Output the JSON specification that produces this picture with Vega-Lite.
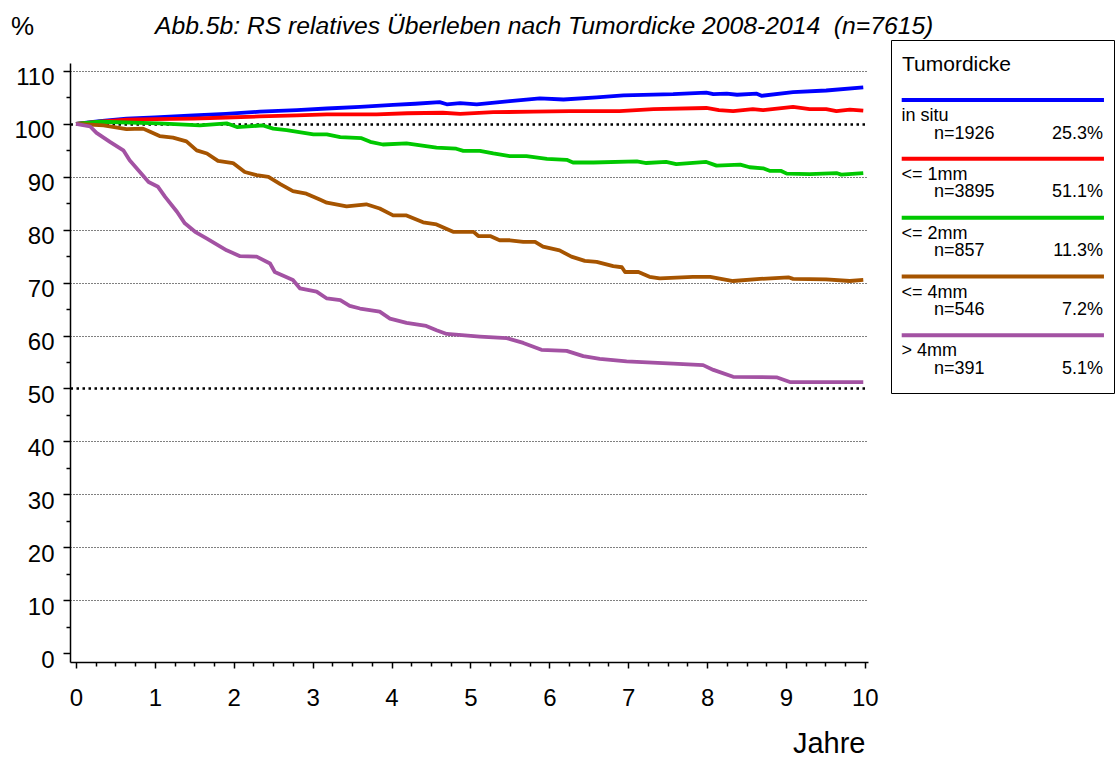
{
  "$schema": "https://vega.github.io/schema/vega-lite/v6.json",
  "padding": {"left": 10, "top": 13, "right": 0, "bottom": 0},
  "bounds": "flush",
  "spacing": 23,
  "config": {
    "font": "Liberation Sans",
    "view": {"stroke": null},
    "axis": {"labelFont": "Liberation Sans", "titleFont": "Liberation Sans", "labelColor": "black", "titleColor": "black"}
  },
  "datasets": {
    "curves": [
      {"cat": "in situ", "t": 0, "v": 100}, {"cat": "in situ", "t": 0.3, "v": 100.5}, {"cat": "in situ", "t": 0.64, "v": 101.0}, {"cat": "in situ", "t": 1.0, "v": 101.2}, {"cat": "in situ", "t": 1.49, "v": 101.6}, {"cat": "in situ", "t": 1.9, "v": 101.9}, {"cat": "in situ", "t": 2.33, "v": 102.3}, {"cat": "in situ", "t": 2.8, "v": 102.6}, {"cat": "in situ", "t": 3.18, "v": 102.9}, {"cat": "in situ", "t": 3.6, "v": 103.2}, {"cat": "in situ", "t": 4.02, "v": 103.6}, {"cat": "in situ", "t": 4.3, "v": 103.8}, {"cat": "in situ", "t": 4.61, "v": 104.1}, {"cat": "in situ", "t": 4.7, "v": 103.7}, {"cat": "in situ", "t": 4.87, "v": 103.9}, {"cat": "in situ", "t": 5.08, "v": 103.7}, {"cat": "in situ", "t": 5.5, "v": 104.3}, {"cat": "in situ", "t": 5.88, "v": 104.8}, {"cat": "in situ", "t": 6.18, "v": 104.6}, {"cat": "in situ", "t": 6.6, "v": 105.0}, {"cat": "in situ", "t": 6.94, "v": 105.4}, {"cat": "in situ", "t": 7.57, "v": 105.6}, {"cat": "in situ", "t": 7.99, "v": 105.9}, {"cat": "in situ", "t": 8.08, "v": 105.6}, {"cat": "in situ", "t": 8.25, "v": 105.7}, {"cat": "in situ", "t": 8.38, "v": 105.5}, {"cat": "in situ", "t": 8.63, "v": 105.7}, {"cat": "in situ", "t": 8.69, "v": 105.3}, {"cat": "in situ", "t": 9.09, "v": 106.0}, {"cat": "in situ", "t": 9.51, "v": 106.3}, {"cat": "in situ", "t": 9.98, "v": 106.9},
      {"cat": "<= 1mm", "t": 0, "v": 100}, {"cat": "<= 1mm", "t": 0.3, "v": 100.4}, {"cat": "<= 1mm", "t": 0.64, "v": 100.8}, {"cat": "<= 1mm", "t": 1.0, "v": 100.9}, {"cat": "<= 1mm", "t": 1.49, "v": 101.0}, {"cat": "<= 1mm", "t": 1.9, "v": 101.2}, {"cat": "<= 1mm", "t": 2.33, "v": 101.4}, {"cat": "<= 1mm", "t": 2.8, "v": 101.6}, {"cat": "<= 1mm", "t": 3.18, "v": 101.8}, {"cat": "<= 1mm", "t": 3.81, "v": 101.8}, {"cat": "<= 1mm", "t": 4.2, "v": 102.0}, {"cat": "<= 1mm", "t": 4.65, "v": 102.1}, {"cat": "<= 1mm", "t": 4.87, "v": 101.9}, {"cat": "<= 1mm", "t": 5.29, "v": 102.2}, {"cat": "<= 1mm", "t": 5.8, "v": 102.3}, {"cat": "<= 1mm", "t": 6.26, "v": 102.4}, {"cat": "<= 1mm", "t": 6.89, "v": 102.4}, {"cat": "<= 1mm", "t": 7.32, "v": 102.8}, {"cat": "<= 1mm", "t": 7.99, "v": 103.0}, {"cat": "<= 1mm", "t": 8.15, "v": 102.6}, {"cat": "<= 1mm", "t": 8.33, "v": 102.4}, {"cat": "<= 1mm", "t": 8.58, "v": 102.8}, {"cat": "<= 1mm", "t": 8.71, "v": 102.6}, {"cat": "<= 1mm", "t": 9.09, "v": 103.2}, {"cat": "<= 1mm", "t": 9.3, "v": 102.8}, {"cat": "<= 1mm", "t": 9.51, "v": 102.8}, {"cat": "<= 1mm", "t": 9.64, "v": 102.4}, {"cat": "<= 1mm", "t": 9.81, "v": 102.7}, {"cat": "<= 1mm", "t": 9.98, "v": 102.5},
      {"cat": "<= 2mm", "t": 0, "v": 100}, {"cat": "<= 2mm", "t": 0.3, "v": 100.4}, {"cat": "<= 2mm", "t": 1.06, "v": 100.1}, {"cat": "<= 2mm", "t": 1.57, "v": 99.7}, {"cat": "<= 2mm", "t": 1.91, "v": 100.1}, {"cat": "<= 2mm", "t": 2.04, "v": 99.4}, {"cat": "<= 2mm", "t": 2.37, "v": 99.7}, {"cat": "<= 2mm", "t": 2.5, "v": 99.1}, {"cat": "<= 2mm", "t": 2.67, "v": 98.8}, {"cat": "<= 2mm", "t": 3.01, "v": 98.0}, {"cat": "<= 2mm", "t": 3.18, "v": 98.0}, {"cat": "<= 2mm", "t": 3.35, "v": 97.5}, {"cat": "<= 2mm", "t": 3.62, "v": 97.3}, {"cat": "<= 2mm", "t": 3.73, "v": 96.6}, {"cat": "<= 2mm", "t": 3.89, "v": 96.1}, {"cat": "<= 2mm", "t": 4.19, "v": 96.3}, {"cat": "<= 2mm", "t": 4.57, "v": 95.5}, {"cat": "<= 2mm", "t": 4.82, "v": 95.3}, {"cat": "<= 2mm", "t": 4.91, "v": 94.9}, {"cat": "<= 2mm", "t": 5.12, "v": 94.9}, {"cat": "<= 2mm", "t": 5.29, "v": 94.4}, {"cat": "<= 2mm", "t": 5.5, "v": 93.9}, {"cat": "<= 2mm", "t": 5.71, "v": 93.9}, {"cat": "<= 2mm", "t": 5.97, "v": 93.4}, {"cat": "<= 2mm", "t": 6.22, "v": 93.2}, {"cat": "<= 2mm", "t": 6.3, "v": 92.7}, {"cat": "<= 2mm", "t": 6.56, "v": 92.7}, {"cat": "<= 2mm", "t": 7.11, "v": 92.9}, {"cat": "<= 2mm", "t": 7.23, "v": 92.6}, {"cat": "<= 2mm", "t": 7.48, "v": 92.8}, {"cat": "<= 2mm", "t": 7.61, "v": 92.4}, {"cat": "<= 2mm", "t": 7.99, "v": 92.8}, {"cat": "<= 2mm", "t": 8.12, "v": 92.1}, {"cat": "<= 2mm", "t": 8.42, "v": 92.3}, {"cat": "<= 2mm", "t": 8.54, "v": 91.8}, {"cat": "<= 2mm", "t": 8.71, "v": 91.6}, {"cat": "<= 2mm", "t": 8.8, "v": 91.1}, {"cat": "<= 2mm", "t": 8.94, "v": 91.1}, {"cat": "<= 2mm", "t": 9.01, "v": 90.6}, {"cat": "<= 2mm", "t": 9.3, "v": 90.5}, {"cat": "<= 2mm", "t": 9.64, "v": 90.7}, {"cat": "<= 2mm", "t": 9.7, "v": 90.4}, {"cat": "<= 2mm", "t": 9.98, "v": 90.7},
      {"cat": "<= 4mm", "t": 0, "v": 100}, {"cat": "<= 4mm", "t": 0.35, "v": 99.7}, {"cat": "<= 4mm", "t": 0.64, "v": 99.0}, {"cat": "<= 4mm", "t": 0.85, "v": 99.1}, {"cat": "<= 4mm", "t": 0.94, "v": 98.5}, {"cat": "<= 4mm", "t": 1.06, "v": 97.7}, {"cat": "<= 4mm", "t": 1.23, "v": 97.4}, {"cat": "<= 4mm", "t": 1.4, "v": 96.7}, {"cat": "<= 4mm", "t": 1.53, "v": 95.0}, {"cat": "<= 4mm", "t": 1.66, "v": 94.4}, {"cat": "<= 4mm", "t": 1.8, "v": 93.0}, {"cat": "<= 4mm", "t": 1.99, "v": 92.6}, {"cat": "<= 4mm", "t": 2.14, "v": 90.9}, {"cat": "<= 4mm", "t": 2.29, "v": 90.3}, {"cat": "<= 4mm", "t": 2.44, "v": 90.0}, {"cat": "<= 4mm", "t": 2.59, "v": 88.6}, {"cat": "<= 4mm", "t": 2.75, "v": 87.3}, {"cat": "<= 4mm", "t": 2.92, "v": 86.8}, {"cat": "<= 4mm", "t": 3.09, "v": 85.7}, {"cat": "<= 4mm", "t": 3.18, "v": 85.1}, {"cat": "<= 4mm", "t": 3.43, "v": 84.4}, {"cat": "<= 4mm", "t": 3.68, "v": 84.8}, {"cat": "<= 4mm", "t": 3.85, "v": 84.0}, {"cat": "<= 4mm", "t": 4.02, "v": 82.7}, {"cat": "<= 4mm", "t": 4.19, "v": 82.7}, {"cat": "<= 4mm", "t": 4.4, "v": 81.4}, {"cat": "<= 4mm", "t": 4.57, "v": 81.0}, {"cat": "<= 4mm", "t": 4.78, "v": 79.6}, {"cat": "<= 4mm", "t": 5.04, "v": 79.6}, {"cat": "<= 4mm", "t": 5.1, "v": 78.8}, {"cat": "<= 4mm", "t": 5.25, "v": 78.8}, {"cat": "<= 4mm", "t": 5.37, "v": 78.0}, {"cat": "<= 4mm", "t": 5.5, "v": 78.0}, {"cat": "<= 4mm", "t": 5.67, "v": 77.7}, {"cat": "<= 4mm", "t": 5.82, "v": 77.7}, {"cat": "<= 4mm", "t": 5.92, "v": 76.8}, {"cat": "<= 4mm", "t": 6.13, "v": 76.1}, {"cat": "<= 4mm", "t": 6.28, "v": 74.9}, {"cat": "<= 4mm", "t": 6.45, "v": 74.1}, {"cat": "<= 4mm", "t": 6.6, "v": 73.9}, {"cat": "<= 4mm", "t": 6.81, "v": 73.1}, {"cat": "<= 4mm", "t": 6.92, "v": 72.9}, {"cat": "<= 4mm", "t": 6.96, "v": 72.0}, {"cat": "<= 4mm", "t": 7.13, "v": 72.0}, {"cat": "<= 4mm", "t": 7.27, "v": 71.1}, {"cat": "<= 4mm", "t": 7.4, "v": 70.8}, {"cat": "<= 4mm", "t": 7.82, "v": 71.1}, {"cat": "<= 4mm", "t": 8.04, "v": 71.1}, {"cat": "<= 4mm", "t": 8.33, "v": 70.3}, {"cat": "<= 4mm", "t": 8.67, "v": 70.7}, {"cat": "<= 4mm", "t": 9.03, "v": 71.0}, {"cat": "<= 4mm", "t": 9.09, "v": 70.7}, {"cat": "<= 4mm", "t": 9.51, "v": 70.6}, {"cat": "<= 4mm", "t": 9.81, "v": 70.3}, {"cat": "<= 4mm", "t": 9.98, "v": 70.5},
      {"cat": "> 4mm", "t": 0, "v": 100}, {"cat": "> 4mm", "t": 0.18, "v": 99.5}, {"cat": "> 4mm", "t": 0.26, "v": 98.3}, {"cat": "> 4mm", "t": 0.43, "v": 96.6}, {"cat": "> 4mm", "t": 0.6, "v": 95.0}, {"cat": "> 4mm", "t": 0.68, "v": 93.1}, {"cat": "> 4mm", "t": 0.81, "v": 90.9}, {"cat": "> 4mm", "t": 0.92, "v": 89.0}, {"cat": "> 4mm", "t": 1.04, "v": 88.1}, {"cat": "> 4mm", "t": 1.13, "v": 86.2}, {"cat": "> 4mm", "t": 1.28, "v": 83.4}, {"cat": "> 4mm", "t": 1.38, "v": 81.2}, {"cat": "> 4mm", "t": 1.51, "v": 79.6}, {"cat": "> 4mm", "t": 1.66, "v": 78.3}, {"cat": "> 4mm", "t": 1.91, "v": 76.1}, {"cat": "> 4mm", "t": 2.08, "v": 75.0}, {"cat": "> 4mm", "t": 2.29, "v": 74.9}, {"cat": "> 4mm", "t": 2.46, "v": 73.6}, {"cat": "> 4mm", "t": 2.52, "v": 72.0}, {"cat": "> 4mm", "t": 2.75, "v": 70.5}, {"cat": "> 4mm", "t": 2.84, "v": 68.9}, {"cat": "> 4mm", "t": 3.05, "v": 68.3}, {"cat": "> 4mm", "t": 3.18, "v": 67.0}, {"cat": "> 4mm", "t": 3.35, "v": 66.7}, {"cat": "> 4mm", "t": 3.47, "v": 65.6}, {"cat": "> 4mm", "t": 3.6, "v": 65.1}, {"cat": "> 4mm", "t": 3.85, "v": 64.5}, {"cat": "> 4mm", "t": 3.98, "v": 63.2}, {"cat": "> 4mm", "t": 4.19, "v": 62.4}, {"cat": "> 4mm", "t": 4.44, "v": 61.8}, {"cat": "> 4mm", "t": 4.57, "v": 61.0}, {"cat": "> 4mm", "t": 4.7, "v": 60.3}, {"cat": "> 4mm", "t": 5.12, "v": 59.8}, {"cat": "> 4mm", "t": 5.46, "v": 59.5}, {"cat": "> 4mm", "t": 5.67, "v": 58.6}, {"cat": "> 4mm", "t": 5.9, "v": 57.3}, {"cat": "> 4mm", "t": 6.22, "v": 57.1}, {"cat": "> 4mm", "t": 6.43, "v": 56.1}, {"cat": "> 4mm", "t": 6.64, "v": 55.6}, {"cat": "> 4mm", "t": 6.98, "v": 55.1}, {"cat": "> 4mm", "t": 7.57, "v": 54.7}, {"cat": "> 4mm", "t": 7.95, "v": 54.4}, {"cat": "> 4mm", "t": 8.08, "v": 53.5}, {"cat": "> 4mm", "t": 8.33, "v": 52.2}, {"cat": "> 4mm", "t": 8.88, "v": 52.1}, {"cat": "> 4mm", "t": 9.05, "v": 51.2}, {"cat": "> 4mm", "t": 9.98, "v": 51.2}
    ],
    "legend": [
      {"cat": "in situ", "n": "n=1926", "pct": "25.3%", "rank": 1},
      {"cat": "<= 1mm", "n": "n=3895", "pct": "51.1%", "rank": 2},
      {"cat": "<= 2mm", "n": "n=857", "pct": "11.3%", "rank": 3},
      {"cat": "<= 4mm", "n": "n=546", "pct": "7.2%", "rank": 4},
      {"cat": "> 4mm", "n": "n=391", "pct": "5.1%", "rank": 5}
    ]
  },
  "hconcat": [
    {
      "width": 798,
      "height": 622,
      "title": {
        "text": "Abb.5b: RS relatives Überleben nach Tumordicke 2008-2014\u00a0 (n=7615)",
        "font": "Liberation Sans",
        "fontSize": 24.7,
        "fontStyle": "italic",
        "fontWeight": "normal",
        "color": "black",
        "anchor": "start",
        "frame": "group",
        "dx": 85,
        "baseline": "alphabetic",
        "offset": -46
      },
      "data": {"name": "curves"},
      "mark": {"type": "line", "strokeWidth": 3.8, "interpolate": "linear", "strokeJoin": "round", "strokeCap": "butt"},
      "encoding": {
        "x": {
          "field": "t", "type": "quantitative",
          "scale": {"domain": [-0.076, 10.04], "nice": false, "zero": false},
          "axis": {
            "values": [0,0.25,0.5,0.75,1,1.25,1.5,1.75,2,2.25,2.5,2.75,3,3.25,3.5,3.75,4,4.25,4.5,4.75,5,5.25,5.5,5.75,6,6.25,6.5,6.75,7,7.25,7.5,7.75,8,8.25,8.5,8.75,9,9.25,9.5,9.75,10],
            "labelExpr": "datum.value % 1 === 0 ? format(datum.value, 'd') : ''",
            "labelFontSize": 24,
            "labelBaseline": "alphabetic",
            "labelPadding": 37,
            "labelFlush": false,
            "labelOverlap": false,
            "tickSize": {"condition": {"test": "datum.value % 1 === 0", "value": 6}, "value": 4},
            "tickColor": "black",
            "tickWidth": 1.5,
            "domainColor": "black",
            "domainWidth": 1.5,
            "grid": false,
            "title": "Jahre",
            "titleFontSize": 29,
            "titleFontWeight": "normal",
            "titleAlign": "right",
            "titleBaseline": "alphabetic",
            "titleX": 795,
            "titleY": 90
          }
        },
        "y": {
          "field": "v", "type": "quantitative",
          "scale": {"domain": [-1.7, 111.5], "range": [622, 23], "nice": false, "zero": false},
          "axis": {
            "values": [0,5,10,15,20,25,30,35,40,45,50,55,60,65,70,75,80,85,90,95,100,105,110],
            "labelExpr": "datum.value % 10 === 0 ? format(datum.value, 'd') : ''",
            "labelFontSize": 24,
            "labelBaseline": "alphabetic",
            "labelOffset": 14,
            "labelPadding": 9,
            "labelFlush": false,
            "labelOverlap": false,
            "tickSize": {"condition": {"test": "datum.value % 10 === 0", "value": 7}, "value": 4},
            "tickColor": "black",
            "tickWidth": 1.5,
            "domainColor": "black",
            "domainWidth": 1.5,
            "grid": true,
            "gridColor": "black",
            "gridOpacity": {"condition": {"test": "datum.value === 0 || datum.value % 10 !== 0", "value": 0}, "value": 1},
            "gridWidth": {"condition": {"test": "datum.value === 50 || datum.value === 100", "value": 2.5}, "value": 1},
            "gridDash": {"condition": {"test": "datum.value === 50 || datum.value === 100", "value": [2.5, 3.5]}, "value": [1, 2]},
            "title": "%",
            "titleAngle": 0,
            "titleFontSize": 26,
            "titleFontWeight": "normal",
            "titleAlign": "center",
            "titleBaseline": "alphabetic",
            "titleX": -48,
            "titleY": -6
          }
        },
        "color": {
          "field": "cat", "type": "nominal",
          "scale": {"domain": ["in situ", "<= 1mm", "<= 2mm", "<= 4mm", "> 4mm"], "range": ["#0000FF", "#FF0000", "#00C800", "#A65400", "#A352A3"]},
          "legend": null
        },
        "order": {"field": "t", "type": "quantitative"}
      }
    },
    {
      "width": 223,
      "height": 353,
      "view": {"stroke": "black", "strokeWidth": 1},
      "title": {"text": "Tumordicke", "font": "Liberation Sans", "fontSize": 21, "fontWeight": "normal", "color": "black", "anchor": "start", "frame": "group", "orient": "top", "baseline": "alphabetic", "offset": -52, "dx": 11},
      "data": {"name": "legend"},
      "encoding": {
        "y": {"field": "rank", "type": "quantitative", "scale": {"domain": [-0.02, 5.98], "reverse": true, "nice": false, "zero": false}, "axis": null},
        "color": {
          "field": "cat", "type": "nominal",
          "scale": {"domain": ["in situ", "<= 1mm", "<= 2mm", "<= 4mm", "> 4mm"], "range": ["#0000FF", "#FF0000", "#00C800", "#A65400", "#A352A3"]},
          "legend": null
        }
      },
      "layer": [
        {
          "mark": {"type": "rule", "strokeWidth": 4},
          "encoding": {
            "x": {"datum": 4.8, "type": "quantitative", "scale": {"domain": [0, 100], "nice": false, "zero": false},
              "axis": {"orient": "top", "offset": -51, "ticks": false, "labels": false, "grid": false, "title": null, "domainColor": "black", "domainWidth": 1}},
            "x2": {"datum": 95.5}
          }
        },
        {
          "mark": {"type": "text", "align": "left", "baseline": "alphabetic", "dy": 21, "fontSize": 18, "font": "Liberation Sans"},
          "encoding": {
            "x": {"datum": 4.7, "type": "quantitative", "axis": null},
            "text": {"field": "cat"},
            "color": {"value": "black"}
          }
        },
        {
          "mark": {"type": "text", "align": "left", "baseline": "alphabetic", "dy": 38.5, "fontSize": 18, "font": "Liberation Sans"},
          "encoding": {
            "x": {"datum": 19.3, "type": "quantitative", "axis": null},
            "text": {"field": "n"},
            "color": {"value": "black"}
          }
        },
        {
          "mark": {"type": "text", "align": "right", "baseline": "alphabetic", "dy": 38.5, "fontSize": 18, "font": "Liberation Sans"},
          "encoding": {
            "x": {"datum": 95.1, "type": "quantitative", "axis": null},
            "text": {"field": "pct"},
            "color": {"value": "black"}
          }
        }
      ]
    }
  ]
}
